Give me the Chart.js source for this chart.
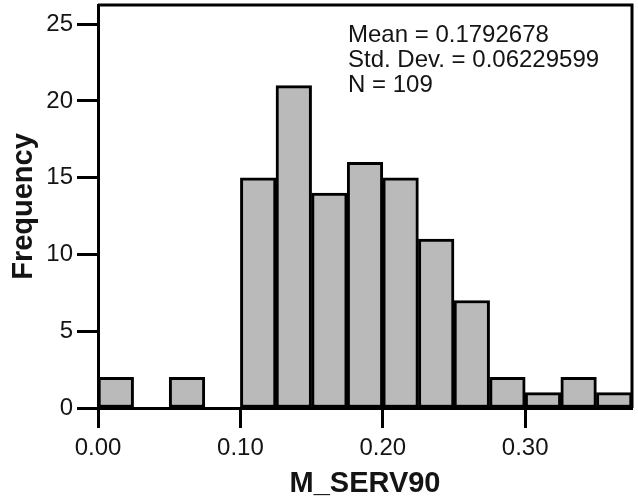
<!DOCTYPE html>
<html>
<head>
<meta charset="utf-8">
<script src="https://cdn.jsdelivr.net/npm/chart.js@4/dist/chart.umd.min.js"></script>
<style>
  body { margin: 0; background: #fff; }
  #wrap { width: 638px; height: 504px; }
</style>
</head>
<body>
<div id="wrap"><canvas id="histo"></canvas></div>
<script>
// bin centres (bin width 0.025) and counts
var binCenters = [0.0125, 0.0375, 0.0625, 0.0875, 0.1125, 0.1375, 0.1625, 0.1875,
                  0.2125, 0.2375, 0.2625, 0.2875, 0.3125, 0.3375, 0.3625];
var counts = [2, 0, 2, 0, 15, 21, 14, 16, 15, 11, 7, 2, 1, 2, 1];
var xTicks = [0.00, 0.10, 0.20, 0.30];
var yTicks = [0, 5, 10, 15, 20, 25];
var statLines = ["Mean = 0.1792678", "Std. Dev. = 0.06229599", "N = 109"];

var points = binCenters.map(function (c, i) { return { x: c, y: counts[i] }; });
var fam = "'Liberation Sans', Arial, sans-serif";

var chartEl = document.getElementById("histo");
if (chartEl) {
  var myHisto = new Chart(chartEl, {
    type: 'bar',
    data: {
      datasets: [{
        data: points,
        backgroundColor: "#bababa",
        borderColor: "#000",
        borderWidth: 3,
        borderSkipped: false,
        barPercentage: 1,
        categoryPercentage: 1
      }]
    },
    // box border + statistics text
    plugins: [{
      afterDraw: function (chart) {
        var ctx = chart.ctx, a = chart.chartArea;
        ctx.save();
        ctx.strokeStyle = "#000";
        ctx.lineWidth = 3;
        ctx.beginPath();
        ctx.moveTo(a.left, a.top);
        ctx.lineTo(a.right, a.top);
        ctx.lineTo(a.right, a.bottom);
        ctx.stroke();
        ctx.fillStyle = "#141414";
        ctx.font = "24px " + fam;
        ctx.textBaseline = "alphabetic";
        statLines.forEach(function (t, i) {
          ctx.fillText(t, 348, 42 + i * 25);
        });
        ctx.restore();
      }
    }],
    options: {
      responsive: true,
      maintainAspectRatio: false,
      animation: false,
      layout: { padding: { top: 5, right: 6, left: 0, bottom: 0 } },
      plugins: { legend: { display: false }, tooltip: { enabled: false } },
      scales: {
        x: {
          type: 'linear',
          min: 0,
          max: 0.375,
          offset: false,
          grid: { offset: false, drawOnChartArea: false, drawTicks: true, tickLength: 20, tickWidth: 3, tickColor: "#000" },
          border: { color: "#000", width: 3 },
          afterBuildTicks: function (s) { s.ticks = xTicks.map(function (v) { return { value: v }; }); },
          afterFit: function (s) { s.height = 96; s.paddingLeft = 0; s.paddingRight = 0; },
          ticks: {
            color: "#141414",
            padding: 6,
            maxRotation: 0,
            font: { family: fam, size: 24 },
            callback: function (v) { return Number(v).toFixed(2); }
          },
          title: {
            display: true,
            text: "M_SERV90",
            color: "#141414",
            padding: { top: 0, bottom: 3 },
            font: { family: fam, size: 29, weight: 'bold' }
          }
        },
        y: {
          min: 0,
          max: 26.25,
          grid: { drawOnChartArea: false, drawTicks: true, tickLength: 21, tickWidth: 3, tickColor: "#000" },
          border: { color: "#000", width: 3 },
          afterBuildTicks: function (s) { s.ticks = yTicks.map(function (v) { return { value: v }; }); },
          afterFit: function (s) { s.width = 98; s.paddingTop = 0; s.paddingBottom = 0; },
          ticks: {
            color: "#141414",
            padding: 4,
            font: { family: fam, size: 24 }
          },
          title: {
            display: true,
            text: "Frequency",
            color: "#141414",
            padding: { top: 7, bottom: 0 },
            font: { family: fam, size: 29, weight: 'bold' }
          }
        }
      }
    }
  });
}
</script>
</body>
</html>
